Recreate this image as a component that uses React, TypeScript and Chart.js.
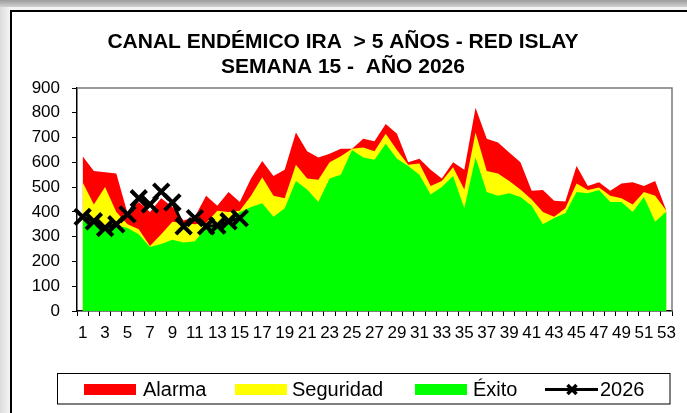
import React, { useEffect, useRef } from 'react';
import { Chart, registerables } from 'chart.js';

Chart.register(...registerables);

const TITLE_LINES = ['CANAL ENDÉMICO IRA  > 5 AÑOS - RED ISLAY', 'SEMANA 15 -  AÑO 2026'];

const WEEKS = [
  '1', '2', '3', '4', '5', '6', '7', '8', '9', '10', '11', '12', '13', '14', '15', '16', '17', '18',
  '19', '20', '21', '22', '23', '24', '25', '26', '27', '28', '29', '30', '31', '32', '33', '34', '35',
  '36', '37', '38', '39', '40', '41', '42', '43', '44', '45', '46', '47', '48', '49', '50', '51', '52', '53',
];

const ALARMA = [
  625, 565, 560, 555, 395, 440, 400, 455, 420, 365, 380, 465, 425, 480, 440, 535, 605, 545,
  570, 720, 645, 620, 635, 655, 655, 695, 685, 755, 715, 600, 615, 570, 535, 600, 570,
  820, 695, 680, 640, 600, 485, 488, 445, 442, 585, 505, 520, 485, 515, 520, 505, 525, 405,
];

const SEGURIDAD = [
  520, 430, 500, 400, 350, 330, 262, 310, 360, 355, 350, 355, 405, 400, 405, 465, 540, 465,
  455, 590, 535, 530, 600, 625, 655, 660, 645, 715, 650, 590, 595, 505, 525, 580, 490,
  720, 565, 555, 525, 490, 450, 400, 380, 415, 515, 488, 498, 465, 455, 430, 480, 465, 405,
];

const EXITO = [
  370, 350, 335, 345, 335, 310, 258, 270, 288, 276, 282, 335, 355, 360, 400, 420, 435, 380,
  415, 525, 490, 440, 535, 550, 650, 620, 610, 675, 615, 585, 550, 470, 500, 545, 415,
  620, 480, 465, 475, 460, 425, 350, 375, 395, 480, 475, 488, 440, 440, 400, 460, 360, 402,
];

const Y2026 = [380, 362, 335, 350, 390, 455, 430, 482, 438, 342, 375, 342, 345, 362, 375];

const Y_TICKS = [0, 100, 200, 300, 400, 500, 600, 700, 800, 900];

const FONT = '"Liberation Sans", Arial, sans-serif';

const legendPlugin = {
  id: 'boxLegend',
  afterDraw(chart: any) {
    const ctx = chart.ctx as CanvasRenderingContext2D;
    const area = chart.chartArea;
    ctx.save();
    // plot-area border (top / right)
    ctx.strokeStyle = '#7a7a7a';
    ctx.lineWidth = 1.5;
    ctx.beginPath();
    ctx.moveTo(area.left, area.top);
    ctx.lineTo(area.right, area.top);
    ctx.lineTo(area.right, area.bottom);
    ctx.stroke();

    // legend frame
    ctx.strokeStyle = '#000';
    ctx.lineWidth = 1;
    ctx.strokeRect(57.5, 373.5, 612.5, 30.5);

    const swatchX = [84, 235, 415, 545];
    const textX = [143, 292, 473, 600];
    const cy = 389.5;
    ctx.font = `20px ${FONT}`;
    ctx.textBaseline = 'middle';
    ctx.textAlign = 'left';
    chart.data.datasets.forEach((ds: any, i: number) => {
      if (ds.type === 'line' && ds.fill === false) {
        ctx.strokeStyle = '#000';
        ctx.lineWidth = 3;
        ctx.beginPath();
        ctx.moveTo(swatchX[i], cy);
        ctx.lineTo(swatchX[i] + 53, cy);
        ctx.stroke();
        const mx = swatchX[i] + 27;
        const r = 4.5;
        ctx.lineWidth = 3.5;
        ctx.beginPath();
        ctx.moveTo(mx - r, cy - r);
        ctx.lineTo(mx + r, cy + r);
        ctx.moveTo(mx - r, cy + r);
        ctx.lineTo(mx + r, cy - r);
        ctx.stroke();
      } else {
        ctx.fillStyle = ds.backgroundColor;
        ctx.fillRect(swatchX[i], 384, 52, 11);
      }
      ctx.fillStyle = '#000';
      ctx.fillText(ds.label, textX[i], cy + 0.5);
    });
    ctx.restore();
  },
};

function EndemicChart() {
  const ref = useRef<HTMLCanvasElement | null>(null);

  useEffect(() => {
    if (!ref.current) return;
    const chart = new Chart(ref.current, {
      type: 'line',
      data: {
        labels: WEEKS,
        datasets: [
          {
            type: 'line',
            label: 'Alarma',
            data: ALARMA,
            backgroundColor: '#FF0000',
            borderColor: '#FF0000',
            borderWidth: 0,
            pointRadius: 0,
            fill: 'origin',
            tension: 0,
            order: 3,
          },
          {
            type: 'line',
            label: 'Seguridad',
            data: SEGURIDAD,
            backgroundColor: '#FFFF00',
            borderColor: '#FFFF00',
            borderWidth: 0,
            pointRadius: 0,
            fill: 'origin',
            tension: 0,
            order: 2,
          },
          {
            type: 'line',
            label: 'Éxito',
            data: EXITO,
            backgroundColor: '#00FF00',
            borderColor: '#00FF00',
            borderWidth: 0,
            pointRadius: 0,
            fill: 'origin',
            tension: 0,
            order: 1,
          },
          {
            type: 'line',
            label: '2026',
            data: Y2026,
            borderColor: '#000000',
            backgroundColor: '#000000',
            borderWidth: 3,
            pointStyle: 'crossRot',
            pointRadius: 11,
            pointBorderWidth: 4,
            pointBorderColor: '#000000',
            fill: false,
            tension: 0,
            order: 0,
          },
        ],
      },
      options: {
        responsive: false,
        animation: false,
        layout: { padding: { top: 0, left: 10, right: 11, bottom: 72 } },
        plugins: {
          legend: { display: false },
          tooltip: { enabled: false },
          title: {
            display: true,
            text: TITLE_LINES,
            color: '#000',
            font: { family: FONT, size: 21, weight: 'bold', lineHeight: 1.167 },
            padding: { top: 30, bottom: 9 },
          },
        },
        scales: {
          x: {
            type: 'category',
            offset: true,
            grid: {
              offset: true,
              drawOnChartArea: false,
              drawTicks: true,
              tickLength: 5,
              color: '#000',
              lineWidth: 1,
            },
            border: { display: true, color: '#000', width: 1.5 },
            ticks: {
              autoSkip: false,
              maxRotation: 0,
              minRotation: 0,
              padding: 7,
              color: '#000',
              font: { family: FONT, size: 17 },
              callback: (_v: any, i: number) => (i % 2 === 0 ? WEEKS[i] : ''),
            },
            afterFit: (scale: any) => {
              scale.height = 30;
            },
          },
          y: {
            type: 'linear',
            min: Y_TICKS[0],
            max: Y_TICKS[Y_TICKS.length - 1],
            grid: {
              drawOnChartArea: false,
              drawTicks: true,
              tickLength: 5,
              color: '#000',
              lineWidth: 1,
            },
            border: { display: true, color: '#000', width: 1.5 },
            ticks: {
              stepSize: 100,
              padding: 12,
              color: '#000',
              font: { family: FONT, size: 17 },
            },
            afterFit: (scale: any) => {
              scale.width = 67;
            },
          },
        },
      },
      plugins: [legendPlugin],
    } as any);
    return () => chart.destroy();
  }, []);

  return (
    <canvas
      ref={ref}
      width={687}
      height={413}
      style={{ position: 'absolute', left: 0, top: 0, width: 687, height: 413 }}
    />
  );
}

export default function App() {
  return (
    <div
      style={{
        position: 'fixed',
        left: 0,
        top: 0,
        width: 687,
        height: 413,
        overflow: 'hidden',
        background: 'linear-gradient(to right, #dcdcdc, #f4f4f4 10px)',
      }}
    >
      <div
        style={{
          position: 'absolute',
          left: 0,
          top: 0,
          width: 687,
          height: 7,
          background: 'linear-gradient(to bottom, #9c9c9c, #d0d0d0)',
        }}
      />
      <div
        style={{
          position: 'absolute',
          left: 10,
          top: 10,
          width: 700,
          height: 500,
          border: '2px solid #000',
          background: '#fff',
        }}
      />
      <EndemicChart />
    </div>
  );
}
